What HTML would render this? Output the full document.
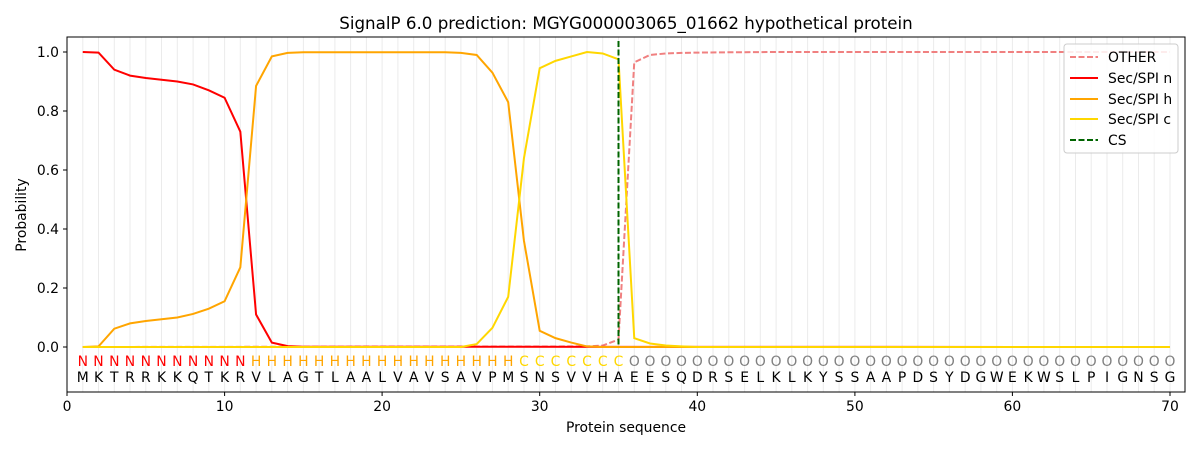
<!DOCTYPE html>
<html><head><meta charset="utf-8"><style>
html,body{margin:0;padding:0;background:#fff;}
svg{display:block;font-family:"DejaVu Sans","Liberation Sans",sans-serif;}
</style></head><body>
<svg width="1200" height="450" viewBox="0 0 1200 450" xmlns="http://www.w3.org/2000/svg">
<rect width="1200" height="450" fill="#fff"/>
<text x="626" y="29" font-size="16.7" text-anchor="middle" fill="#000">SignalP 6.0 prediction: MGYG000003065_01662 hypothetical protein</text>
<g id="grid" stroke="#ebebeb" stroke-width="1">
<path d="M82.8 37V392M98.5 37V392M114.3 37V392M130 37V392M145.8 37V392M161.5 37V392M177.3 37V392M193.1 37V392M208.8 37V392M224.6 37V392M240.3 37V392M256.1 37V392M271.8 37V392M287.6 37V392M303.4 37V392M319.1 37V392M334.9 37V392M350.6 37V392M366.4 37V392M382.1 37V392M397.9 37V392M413.7 37V392M429.4 37V392M445.2 37V392M460.9 37V392M476.7 37V392M492.4 37V392M508.2 37V392M524 37V392M539.7 37V392M555.5 37V392M571.2 37V392M587 37V392M602.7 37V392M618.5 37V392M634.3 37V392M650 37V392M665.8 37V392M681.5 37V392M697.3 37V392M713 37V392M728.8 37V392M744.6 37V392M760.3 37V392M776.1 37V392M791.8 37V392M807.6 37V392M823.3 37V392M839.1 37V392M854.9 37V392M870.6 37V392M886.4 37V392M902.1 37V392M917.9 37V392M933.6 37V392M949.4 37V392M965.2 37V392M980.9 37V392M996.7 37V392M1012.4 37V392M1028.2 37V392M1043.9 37V392M1059.7 37V392M1075.5 37V392M1091.2 37V392M1107 37V392M1122.7 37V392M1138.5 37V392M1154.2 37V392M1170 37V392"/>
</g>
<g transform="translate(67,347) scale(15.757,-295)" fill="none" stroke-width="2">
<polyline vector-effect="non-scaling-stroke" stroke="#f08080" stroke-dasharray="6,2.5" points="1,0 33,0.002 34,0.005 35,0.025 36,0.965 37,0.99 38,0.995 39,0.997 40,0.998 42,0.999 45,1 70,1"/>
<polyline vector-effect="non-scaling-stroke" stroke="#ff0000" points="1,1 2,0.998 3,0.94 4,0.92 5,0.912 6,0.906 7,0.9 8,0.89 9,0.87 10,0.845 11,0.73 12,0.11 13,0.015 14,0.003 15,0.001 70,0"/>
<polyline vector-effect="non-scaling-stroke" stroke="#ffa500" points="1,0 2,0.002 3,0.062 4,0.08 5,0.088 6,0.094 7,0.1 8,0.112 9,0.13 10,0.155 11,0.27 12,0.885 13,0.985 14,0.997 15,0.999 24,0.999 25,0.997 26,0.99 27,0.93 28,0.83 29,0.36 30,0.055 31,0.03 32,0.015 33,0.002 34,0 70,0"/>
<polyline vector-effect="non-scaling-stroke" stroke="#ffd700" points="1,0 25,0 26,0.01 27,0.065 28,0.17 29,0.64 30,0.945 31,0.97 32,0.985 33,1 34,0.995 35,0.975 36,0.03 37,0.012 38,0.005 39,0.002 40,0 70,0"/>
</g>
<line x1="618.5" y1="41" x2="618.5" y2="347" stroke="#006400" stroke-width="2" stroke-dasharray="6,2.5"/>
<g font-size="13.9" text-anchor="middle">
<text y="366" fill="#ff0000" x="82.8 98.5 114.3 130 145.8 161.5 177.3 193.1 208.8 224.6 240.3">NNNNNNNNNNN</text>
<text y="366" fill="#ffa500" x="256.1 271.8 287.6 303.4 319.1 334.9 350.6 366.4 382.1 397.9 413.7 429.4 445.2 460.9 476.7 492.4 508.2">HHHHHHHHHHHHHHHHH</text>
<text y="366" fill="#ffd700" x="524 539.7 555.5 571.2 587 602.7 618.5">CCCCCCC</text>
<text y="366" fill="#808080" x="634.3 650 665.8 681.5 697.3 713 728.8 744.6 760.3 776.1 791.8 807.6 823.3 839.1 854.9 870.6 886.4 902.1 917.9 933.6 949.4 965.2 980.9 996.7 1012.4 1028.2 1043.9 1059.7 1075.5 1091.2 1107 1122.7 1138.5 1154.2 1170">OOOOOOOOOOOOOOOOOOOOOOOOOOOOOOOOOOO</text>
<text y="382" fill="#000" x="82.8 98.5 114.3 130 145.8 161.5 177.3 193.1 208.8 224.6 240.3 256.1 271.8 287.6 303.4 319.1 334.9 350.6 366.4 382.1 397.9 413.7 429.4 445.2 460.9 476.7 492.4 508.2 524 539.7 555.5 571.2 587 602.7 618.5 634.3 650 665.8 681.5 697.3 713 728.8 744.6 760.3 776.1 791.8 807.6 823.3 839.1 854.9 870.6 886.4 902.1 917.9 933.6 949.4 965.2 980.9 996.7 1012.4 1028.2 1043.9 1059.7 1075.5 1091.2 1107 1122.7 1138.5 1154.2 1170">MKTRRKKQTKRVLAGTLAALVAVSAVPMSNSVVHAEESQDRSELKLKYSSAAPDSYDGWEKWSLPIGNSG</text>
</g>
<rect x="67" y="37" width="1118" height="355" fill="none" stroke="#000" stroke-width="1"/>
<g stroke="#000" stroke-width="1">
<path d="M67 392v4M224.6 392v4M382.1 392v4M539.7 392v4M697.3 392v4M854.9 392v4M1012.4 392v4M1170 392v4"/>
<path d="M67 347h-4M67 288h-4M67 229h-4M67 170h-4M67 111h-4M67 52h-4"/>
</g>
<g font-size="13.9" fill="#000" text-anchor="middle">
<text x="67" y="411">0</text><text x="224.6" y="411">10</text><text x="382.1" y="411">20</text><text x="539.7" y="411">30</text><text x="697.3" y="411">40</text><text x="854.9" y="411">50</text><text x="1012.4" y="411">60</text><text x="1170" y="411">70</text>
<text x="626" y="432">Protein sequence</text>
</g>
<g font-size="13.9" fill="#000" text-anchor="end">
<text x="59" y="352">0.0</text><text x="59" y="293">0.2</text><text x="59" y="234">0.4</text><text x="59" y="175">0.6</text><text x="59" y="116">0.8</text><text x="59" y="57">1.0</text>
</g>
<text transform="translate(26,215) rotate(-90)" font-size="13.9" text-anchor="middle">Probability</text>
<rect x="1064" y="44" width="114" height="109" rx="3" fill="#fff" fill-opacity="0.85" stroke="#ccc"/>
<g stroke-width="2">
<line x1="1070" y1="57" x2="1098" y2="57" stroke="#f08080" stroke-dasharray="6,2.5"/>
<line x1="1070" y1="78" x2="1098" y2="78" stroke="#ff0000"/>
<line x1="1070" y1="99" x2="1098" y2="99" stroke="#ffa500"/>
<line x1="1070" y1="119" x2="1098" y2="119" stroke="#ffd700"/>
<line x1="1070" y1="140" x2="1098" y2="140" stroke="#006400" stroke-dasharray="6,2.5"/>
</g>
<g font-size="13.9" fill="#000">
<text x="1108" y="62">OTHER</text><text x="1108" y="83">Sec/SPI n</text><text x="1108" y="104">Sec/SPI h</text><text x="1108" y="124">Sec/SPI c</text><text x="1108" y="145">CS</text>
</g>
</svg>
</body></html>
